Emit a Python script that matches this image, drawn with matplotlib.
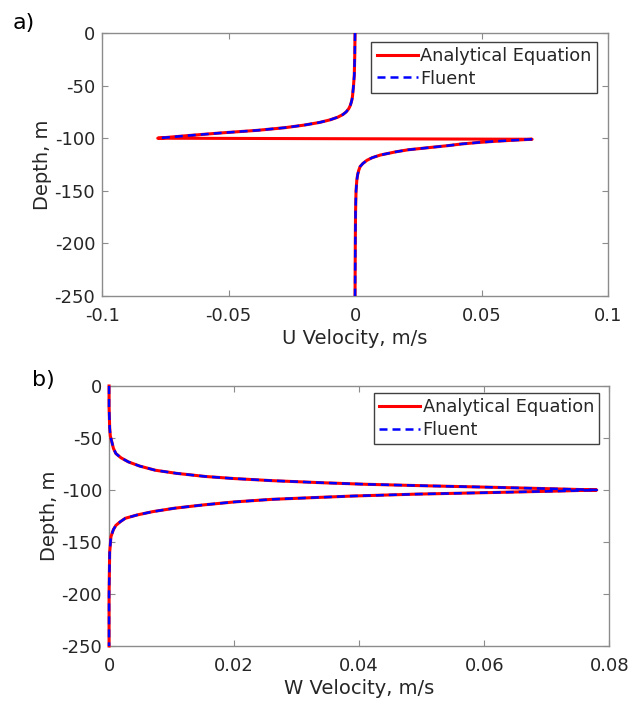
import matplotlib
matplotlib.use('Agg')
import matplotlib.pyplot as plt

plt.rcParams['font.family'] = ['DejaVu Sans']
plt.rcParams['axes.unicode_minus'] = False

# Panel a: U velocity profile
u_depth_upper = [0, -20, -40, -50, -55, -60, -63, -66, -69, -72, -75, -77.5, -80,
                 -82.5, -85, -87.5, -90, -92.5, -95, -97.5, -100]
u_upper = [0, -0.0001, -0.0003, -0.0006, -0.0008, -0.0010, -0.0012, -0.0015, -0.0019,
           -0.0025, -0.0035, -0.0048, -0.0068, -0.0098, -0.0140, -0.0200, -0.0277,
           -0.0385, -0.0530, -0.0660, -0.0780]
u_depth_lower = [-101, -102, -103, -104, -105.5, -107, -109, -111, -113, -116, -118.5,
                 -121, -124, -127, -131, -135, -140, -150, -170, -200, -250]
u_lower = [0.0700, 0.0620, 0.0550, 0.0490, 0.0420, 0.0370, 0.0290, 0.0210, 0.0160,
           0.0100, 0.0068, 0.0047, 0.0031, 0.0020, 0.0014, 0.0010, 0.0007, 0.0004,
           0.0002, 0.0001, 0]

# Panel b: W velocity profile
w_depth_upper = [0, -20, -40, -48, -55, -60, -65, -69, -73, -77, -81, -84, -87, -89,
                 -91, -93, -94.5, -96, -97.5, -99, -100]
w_upper = [0, 0, 0.0001, 0.0002, 0.0005, 0.0007, 0.0011, 0.0019, 0.0031, 0.0049,
           0.0074, 0.0108, 0.0154, 0.0200, 0.0260, 0.0340, 0.0410, 0.0510, 0.0620,
           0.0720, 0.0780]
w_depth_lower = [-100, -101, -102.6, -104, -105.8, -107.5, -109, -111.5, -114.4, -117.5,
                 -120.8, -124, -127.2, -130.5, -134, -138, -145, -160, -200, -250]
w_lower = [0.0780, 0.0720, 0.0600, 0.0490, 0.0390, 0.0320, 0.0260, 0.0200, 0.0150,
           0.0105, 0.0070, 0.0045, 0.0026, 0.0018, 0.0011, 0.0007, 0.0003, 0.0001,
           0, 0]

depth_ticks = [0, -50, -100, -150, -200, -250]
u_ticks = [-0.1, -0.05, 0, 0.05, 0.1]
u_tick_labels = ['-0.1', '-0.05', '0', '0.05', '0.1']
w_ticks = [0, 0.02, 0.04, 0.06, 0.08]
w_tick_labels = ['0', '0.02', '0.04', '0.06', '0.08']

spine_col = '#8c8c8c'
text_col = '#262626'

fig = plt.figure(figsize=(6.34, 7.08), dpi=100)
ax_a = fig.add_axes([0.161, 0.5819, 0.798, 0.3715])
ax_b = fig.add_axes([0.172, 0.0876, 0.789, 0.3672])


def style(ax, xticks, xlabels, xlabel, xlim):
    ax.set_xlim(xlim)
    ax.set_ylim(-250, 0)
    ax.set_xticks(xticks)
    ax.set_xticklabels(xlabels)
    ax.set_yticks(depth_ticks)
    ax.set_yticklabels([str(t) for t in depth_ticks])
    ax.tick_params(direction='in', length=4, width=0.8, color=spine_col,
                   labelcolor=text_col, labelsize=13, top=True, right=True)
    ax.tick_params(axis='x', pad=8)
    ax.tick_params(axis='y', pad=5)
    for sp in ax.spines.values():
        sp.set_color(spine_col)
        sp.set_linewidth(1.0)
    ax.set_xlabel(xlabel, fontsize=14, color=text_col, labelpad=3)
    ax.set_ylabel('Depth, m', fontsize=14, color=text_col, labelpad=2)


# analytical: continuous across the jump; fluent: two branches
ax_a.plot(u_upper + u_lower, u_depth_upper + u_depth_lower, color='red', lw=2.2,
          label='Analytical Equation', zorder=3)
ax_a.plot(u_upper, u_depth_upper, color='blue', lw=1.8, dashes=(3.2, 2.0),
          label='Fluent', zorder=3)
ax_a.plot(u_lower, u_depth_lower, color='blue', lw=1.8, dashes=(3.2, 2.0), zorder=3)
style(ax_a, u_ticks, u_tick_labels, 'U Velocity, m/s', (-0.1, 0.1))

# the W curves sit on the left spine, so draw them over it unclipped
ax_b.plot(w_upper + w_lower, w_depth_upper + w_depth_lower, color='red', lw=2.2,
          label='Analytical Equation', zorder=3, clip_on=False)
ax_b.plot(w_upper + w_lower, w_depth_upper + w_depth_lower, color='blue', lw=1.8,
          dashes=(3.2, 2.0), label='Fluent', zorder=3, clip_on=False)
style(ax_b, w_ticks, w_tick_labels, 'W Velocity, m/s', (0, 0.08))

for ax, anchor in [(ax_a, (0.978, 0.966)), (ax_b, (0.98, 0.973))]:
    leg = ax.legend(loc='upper right', bbox_to_anchor=anchor, fontsize=12.8,
                    frameon=True, fancybox=False, framealpha=1, borderaxespad=0,
                    handlelength=2.3, handletextpad=0.15, labelspacing=0.25,
                    borderpad=0.3)
    leg.get_frame().set_edgecolor('#404040')
    leg.get_frame().set_linewidth(1.0)
    leg.set_zorder(5)
    for t in leg.get_texts():
        t.set_color(text_col)

fig.text(0.02, 0.968, 'a)', fontsize=16, color='black', ha='left', va='center')
fig.text(0.05, 0.463, 'b)', fontsize=16, color='black', ha='left', va='center')

fig.savefig('out.png', dpi=100)
